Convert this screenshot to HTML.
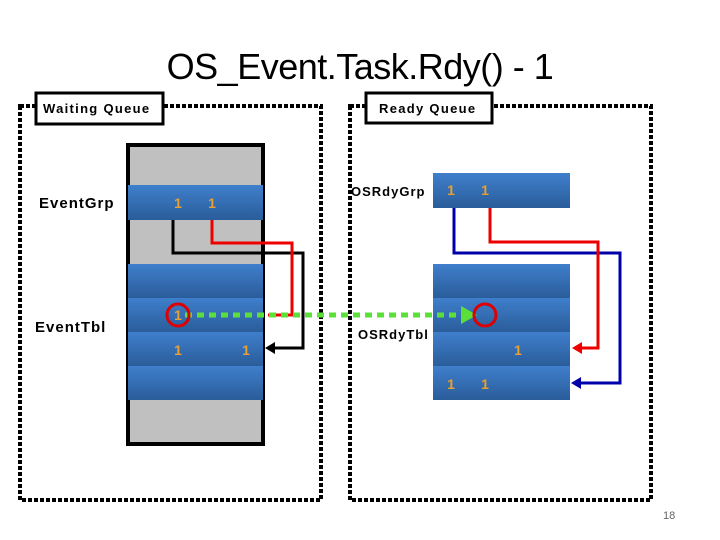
<!DOCTYPE html>
<html><head><style>
body{margin:0;width:720px;height:540px;background:#fff;overflow:hidden;position:relative;font-family:"Liberation Sans",sans-serif}
.t{position:absolute;white-space:nowrap}
</style></head><body>
<div class="t" style="left:0;width:720px;text-align:center;top:46px;font-size:36px;font-family:'Liberation Sans',sans-serif;letter-spacing:-0.5px">OS_Event.Task.Rdy() - 1</div>
<svg width="720" height="540" style="position:absolute;left:0;top:0">
<defs>
<linearGradient id="g" x1="0" y1="0" x2="0" y2="1"><stop offset="0" stop-color="#3f7fcc"/><stop offset="1" stop-color="#2a5d9a"/></linearGradient>
</defs>
<g fill="none" stroke="#000" stroke-width="4" stroke-dasharray="4 2">
<rect x="20" y="106" width="301" height="394"/>
<rect x="350" y="106" width="301" height="394"/>
</g>
<rect x="36" y="93" width="127" height="31" fill="#fff" stroke="#000" stroke-width="3"/>
<rect x="366" y="93" width="126" height="30" fill="#fff" stroke="#000" stroke-width="3"/>
<rect x="128" y="145" width="135" height="299" fill="#c0c0c0" stroke="#000" stroke-width="4"/>
<rect x="128" y="185" width="135" height="35" fill="url(#g)"/>
<g fill="url(#g)">
<rect x="128" y="264" width="135" height="34"/><rect x="128" y="298" width="135" height="34"/>
<rect x="128" y="332" width="135" height="34"/><rect x="128" y="366" width="135" height="34"/>
<rect x="433" y="173" width="137" height="35"/>
<rect x="433" y="264" width="137" height="34"/><rect x="433" y="298" width="137" height="34"/>
<rect x="433" y="332" width="137" height="34"/><rect x="433" y="366" width="137" height="34"/>
</g>
<polyline points="173,220 173,253 303,253 303,348 272,348" fill="none" stroke="#000" stroke-width="3"/>
<polygon points="265,348 275,342 275,354" fill="#000"/>
<polyline points="212,220 212,243 292,243 292,315 268,315" fill="none" stroke="#e00" stroke-width="3"/>
<line x1="185" y1="315" x2="462" y2="315" stroke="#5be03a" stroke-width="5" stroke-dasharray="7 5"/>
<polygon points="461,306 477,315 461,324" fill="#5be03a"/>
<circle cx="178" cy="315" r="11" fill="none" stroke="#d00" stroke-width="3"/>
<circle cx="485" cy="315" r="11" fill="none" stroke="#d00" stroke-width="3"/>
<polyline points="454,208 454,253 620,253 620,383 578,383" fill="none" stroke="#00a" stroke-width="3"/>
<polygon points="571,383 581,377 581,389" fill="#00a"/>
<polyline points="490,208 490,242 598,242 598,348 579,348" fill="none" stroke="#e00" stroke-width="3"/>
<polygon points="572,348 582,342 582,354" fill="#e00"/>
<g font-family="Liberation Sans" font-weight="bold" font-size="14" fill="#e8a030" text-anchor="middle">
<text x="178" y="208">1</text><text x="212" y="208">1</text>
<text x="178" y="320">1</text>
<text x="178" y="355">1</text><text x="246" y="355">1</text>
<text x="451" y="195">1</text><text x="485" y="195">1</text>
<text x="518" y="355">1</text>
<text x="451" y="389">1</text><text x="485" y="389">1</text>
</g>
<g font-family="Liberation Sans" font-weight="bold" fill="#000">
<text x="43" y="113" font-size="13" letter-spacing="1.3">Waiting Queue</text>
<text x="379" y="113" font-size="13" letter-spacing="1.3">Ready Queue</text>
<text x="39" y="208" font-size="15" letter-spacing="1">EventGrp</text>
<text x="35" y="332" font-size="15" letter-spacing="1">EventTbl</text>
<text x="351" y="196" font-size="13" letter-spacing="1">OSRdyGrp</text>
<text x="358" y="339" font-size="13" letter-spacing="1">OSRdyTbl</text>
</g>
<text x="663" y="519" font-family="Liberation Sans" font-size="11" fill="#666">18</text>
</svg>
</body></html>
